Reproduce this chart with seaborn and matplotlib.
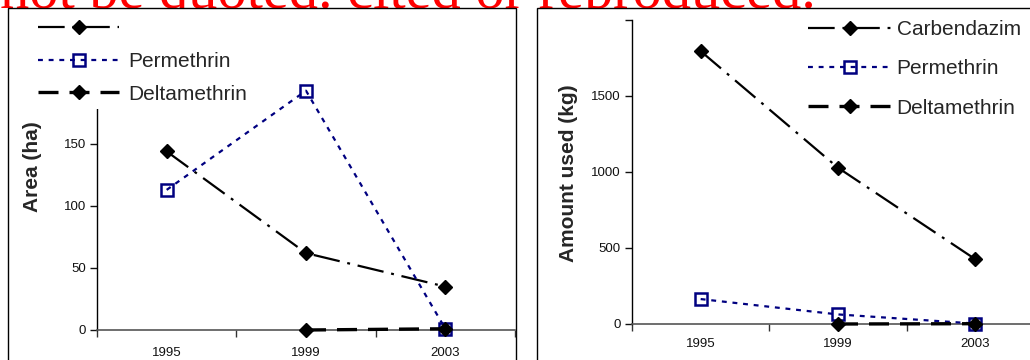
import numpy as np
import pandas as pd
import seaborn as sns
import matplotlib
matplotlib.use("Agg")
import matplotlib.pyplot as plt
from matplotlib.patches import Rectangle

# ---------------- data ----------------
years = ["1995", "1999", "2003"]

area_carbendazim = [144, 62, 35]
area_permethrin = [113, 193, 1]
area_deltamethrin_years = ["1999", "2003"]
area_deltamethrin = [0, 1]

kg_carbendazim = [1795, 1028, 426]
kg_permethrin = [164, 63, 3]
kg_deltamethrin_years = ["1999", "2003"]
kg_deltamethrin = [0, 2]

left_legend_labels = ["", "Permethrin", "Deltamethrin"]
right_legend_labels = ["Carbendazim", "Permethrin", "Deltamethrin"]
left_ylabel = "Area (ha)"
right_ylabel = "Amount used (kg)"
left_yticks = [0, 50, 100, 150, 200]
right_yticks = [0, 500, 1000, 1500, 2000]
right_ytick_labels = ["0", "500", "1000", "1500", ""]
watermark = "not be quoted. cited or reproduced."

# ---------------- style ----------------
sns.set_theme(style="white")
plt.rcParams["font.family"] = ["Liberation Sans", "DejaVu Sans"]

W, H = 1030, 360
fig = plt.figure(figsize=(W / 100, H / 100), dpi=100)

def fx(px):
    return px / W

def fy(py):
    return 1 - py / H

NAVY = "#000080"
styles = {
    "Carbendazim": dict(color="black", lw=1.6, linestyle=(0, (12, 3.5, 1.3, 3.5)),
                        marker="D", markersize=7.5, markerfacecolor="black",
                        markeredgecolor="black", markeredgewidth=1),
    "Permethrin": dict(color=NAVY, lw=1.6, linestyle=(0, (2.2, 2.6)),
                       marker="s", markersize=9, markerfacecolor="none",
                       markeredgecolor=NAVY, markeredgewidth=1.8),
    "Deltamethrin": dict(color="black", lw=2.4, linestyle=(0, (6, 3.3)),
                         marker="D", markersize=7.5, markerfacecolor="black",
                         markeredgecolor="black", markeredgewidth=1),
}

# watermark (behind the chart frames)
fig.text(fx(0), fy(8), watermark, family=["Liberation Serif", "DejaVu Serif"],
         fontsize=42, color="red", ha="left", va="baseline", zorder=-3)

# chart frames
fig.add_artist(Rectangle((fx(8), -0.1), fx(516) - fx(8), fy(8) + 0.1,
                         transform=fig.transFigure, facecolor="white",
                         edgecolor="black", lw=1.0, zorder=-2))
fig.add_artist(Rectangle((fx(537), -0.1), fx(1060) - fx(537), fy(8) + 0.1,
                         transform=fig.transFigure, facecolor="white",
                         edgecolor="black", lw=1.0, zorder=-2))

# axes
axL = fig.add_axes([fx(97), fy(330), fx(515) - fx(97), fy(82) - fy(330)])
axR = fig.add_axes([fx(632), fy(324), fx(1044) - fx(632), fy(20) - fy(324)])
for ax in (axL, axR):
    ax.set_facecolor("none")
    ax.set_zorder(1)

pos = {y: i for i, y in enumerate(years)}

def draw(ax, series):
    handles = []
    for name, yrs, vals in series:
        sns.lineplot(x=[pos[y] for y in yrs], y=vals, ax=ax, label=name,
                     clip_on=False, zorder=3, **styles[name])
        handles.append(ax.lines[-1])
    return handles

hL = draw(axL, [("Carbendazim", years, area_carbendazim),
                ("Permethrin", years, area_permethrin),
                ("Deltamethrin", area_deltamethrin_years, area_deltamethrin)])
hR = draw(axR, [("Carbendazim", years, kg_carbendazim),
                ("Permethrin", years, kg_permethrin),
                ("Deltamethrin", kg_deltamethrin_years, kg_deltamethrin)])

def style_axes(ax, yticks, ylim, xpad):
    ax.set_xlim(-0.5, len(years) - 0.5)
    ax.set_ylim(*ylim)
    ax.set_xticks(np.arange(len(years) + 1) - 0.5)
    ax.set_xticklabels([])
    ax.set_xticks(np.arange(len(years)), minor=True)
    ax.set_xticklabels(years, minor=True)
    ax.set_yticks(yticks)
    ax.tick_params(axis="x", which="major", direction="out", length=5,
                   width=1, color="#333333", bottom=True)
    ax.tick_params(axis="x", which="minor", length=0, pad=xpad,
                   labelsize=9.5, labelcolor="#111111", bottom=True)
    ax.tick_params(axis="y", direction="out", length=5, width=1,
                   color="#111111", left=True, pad=3, labelsize=9.5,
                   labelcolor="#111111")
    for s in ("top", "right"):
        ax.spines[s].set_visible(False)
    ax.spines["left"].set_color("black")
    ax.spines["left"].set_linewidth(1)
    ax.spines["bottom"].set_color("#555555")
    ax.spines["bottom"].set_linewidth(1.2)
    ax.set_xlabel("")
    ax.set_ylabel("")
    ax.grid(False)

style_axes(axL, left_yticks, (0, 200), 12)
style_axes(axR, right_yticks, (0, 2000), 10)
axR.set_yticklabels(right_ytick_labels)

fig.text(fx(33), fy(167), left_ylabel, rotation=90, ha="center", va="center",
         fontsize=15, fontweight="bold")
fig.text(fx(568), fy(173), right_ylabel, rotation=90, ha="center", va="center",
         fontsize=15, fontweight="bold")

legL = axL.legend(hL, left_legend_labels, loc="upper left",
                  bbox_to_anchor=(fx(33), fy(14)), bbox_transform=fig.transFigure,
                  frameon=True, facecolor="white", edgecolor="none", framealpha=1,
                  fontsize=15, handlelength=3.9, handletextpad=0.4,
                  labelspacing=0.66, borderpad=0.25, borderaxespad=0, numpoints=1)
legR = axR.legend(hR, right_legend_labels, loc="upper left",
                  bbox_to_anchor=(fx(803), fy(15)), bbox_transform=fig.transFigure,
                  frameon=True, facecolor="white", edgecolor="none", framealpha=1,
                  fontsize=15, handlelength=4.0, handletextpad=0.25,
                  labelspacing=0.97, borderpad=0.25, borderaxespad=0, numpoints=1)
for leg in (legL, legR):
    leg.set_zorder(10)

fig.savefig("out.png", dpi=100)
